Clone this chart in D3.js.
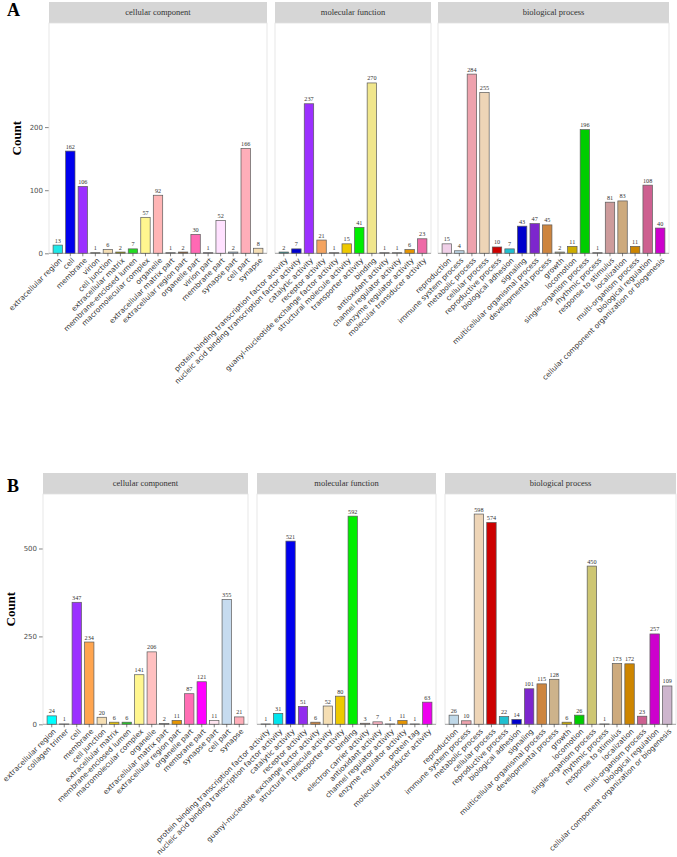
<!DOCTYPE html>
<html><head><meta charset="utf-8">
<script src="https://cdn.jsdelivr.net/npm/d3@7"></script>
<style>body{margin:0;background:#fff}</style></head>
<body><svg id="c" width="677" height="857"></svg>
<script>
// ---------- DATA: Panel A ----------
const ccCatsA = ["extracellular region","cell","membrane","virion","cell junction","extracellular matrix","membrane-enclosed lumen","macromolecular complex","organelle","extracellular matrix part","extracellular region part","organelle part","virion part","membrane part","synapse part","cell part","synapse"];
const ccValsA = [13,162,106,1,6,2,7,57,92,1,2,30,1,52,2,166,8];
const ccColorsA = ["#1EE8E8","#0000EE","#9B30FF","#9C9C7A","#F5DEB3","#8B8B00","#22DD22","#FFF68F","#FFB5B5","#8C8C8C","#8B5A2B","#FF69B4","#9A7A9A","#FFE1FF","#9FB6CD","#FFAEB9","#F5DEB3"];

const mfCatsA = ["protein binding transcription factor activity","nucleic acid binding transcription factor activity","catalytic activity","receptor activity","guanyl-nucleotide exchange factor activity","structural molecule activity","transporter activity","binding","antioxidant activity","channel regulator activity","enzyme regulator activity","molecular transducer activity"];
const mfValsA = [2,7,237,21,1,15,41,270,1,1,6,23];
const mfColorsA = ["#2E8B8B","#0000CD","#9B30FF","#F4A460","#A0A0A0","#EEC900","#00EE00","#F0E68C","#9A9A9A","#A8A8A8","#E69500","#EE6AA7"];

const bpCatsA = ["reproduction","immune system process","metabolic process","cellular process","reproductive process","biological adhesion","signaling","multicellular organismal process","developmental process","growth","locomotion","single-organism process","rhythmic process","response to stimulus","localization","multi-organism process","biological regulation","cellular component organization or biogenesis"];
const bpValsA = [15,4,284,255,10,7,43,47,45,2,11,196,1,81,83,11,108,40];
const bpColorsA = ["#F0D0E8","#BFD8E8","#EEA2AD","#EED5B7","#CD0000","#20C0D0","#0000CD","#7D26CD","#CD853F","#A0A080","#CDAD00","#00CD00","#A0A0A0","#CD9B9B","#CDAA7D","#CD8500","#CD6090","#CD00CD"];

// ---------- DATA: Panel B ----------
const ccCatsB = ["extracellular region","collagen trimer","cell","membrane","cell junction","extracellular matrix","membrane-enclosed lumen","macromolecular complex","organelle","extracellular matrix part","extracellular region part","organelle part","membrane part","synapse part","cell part","synapse"];
const ccValsB = [24,1,347,234,20,6,6,141,206,2,11,87,121,11,355,21];
const ccColorsB = ["#00FFFF","#333333","#9B30FF","#FFA54F","#F5DEB3","#EEC900","#22CC22","#FFF68F","#FFC0C0","#8C8C8C","#E69500","#FF6EB4","#FF00FF","#FFE4F0","#C6DBEF","#FFAEB9"];

const mfCatsB = ["protein binding transcription factor activity","nucleic acid binding transcription factor activity","catalytic activity","receptor activity","guanyl-nucleotide exchange factor activity","structural molecule activity","transporter activity","binding","electron carrier activity","antioxidant activity","channel regulator activity","enzyme regulator activity","protein tag","molecular transducer activity"];
const mfValsB = [1,31,521,51,6,52,80,592,3,7,1,11,1,63];
const mfColorsB = ["#333333","#00E5EE","#0000EE","#912CEE","#CD853F","#F5DEB3","#EEC900","#00EE00","#A08070","#FFB5C5","#333333","#E69500","#333333","#EE00EE"];

const bpCatsB = ["reproduction","immune system process","metabolic process","cellular process","reproductive process","biological adhesion","signaling","multicellular organismal process","developmental process","growth","locomotion","single-organism process","rhythmic process","response to stimulus","localization","multi-organism process","biological regulation","cellular component organization or biogenesis"];
const bpValsB = [26,10,598,574,22,14,101,115,128,6,26,450,1,173,172,23,257,109];
const bpColorsB = ["#BFD8E8","#EEA2AD","#EED5B7","#CD0000","#20C0D0","#0000CD","#7D26CD","#CD853F","#CDB38B","#CDAD00","#00CD00","#CDC673","#333333","#CDAA7D","#CD8500","#CD6090","#CD00CD","#CDB5CD"];

const facetTitles = ["cellular component","molecular function","biological process"];
const ticksA = [0,100,200];
const ticksB = [0,250,500];

// ---------- DRAW ----------
const svg = d3.select("#c");

function drawFacet(spec){
  const y = d3.scaleLinear().domain([0, spec.yMax]).range([spec.y0, spec.yTop]);
  svg.append("text").attr("x", spec.letterX).attr("y", spec.letterY)
    .attr("font-family","Liberation Serif, serif").attr("font-weight","bold")
    .attr("font-size", 18).attr("fill","#000").text(spec.letter);
  svg.append("text").attr("transform",`translate(${spec.countX},${(spec.y0+spec.yTop)/2}) rotate(-90)`)
    .attr("text-anchor","middle").attr("font-family","Liberation Serif, serif").attr("font-weight","bold")
    .attr("font-size", 13).attr("fill","#000").text("Count");
  const ax = svg.append("g").attr("transform",`translate(${spec.panels[0].x0},0)`)
    .call(d3.axisLeft(y).tickValues(spec.ticks).tickSize(4).tickPadding(2));
  ax.select(".domain").remove();
  ax.selectAll(".tick line").attr("stroke","#333").attr("stroke-width",0.6);
  ax.selectAll(".tick text").attr("font-family","DejaVu Sans, sans-serif").attr("font-size",7).attr("fill","#4d4d4d");

  spec.panels.forEach((p,i)=>{
    const x = d3.scaleBand().domain(p.cats).range([p.x0,p.x1]).paddingInner(0.25).paddingOuter(0.325);
    svg.append("rect").attr("x",p.x0).attr("y",spec.stripTop).attr("width",p.x1-p.x0).attr("height",spec.yTop-spec.stripTop).attr("fill","#d6d6d6");
    svg.append("text").attr("x",(p.x0+p.x1)/2).attr("y",(spec.stripTop+spec.yTop)/2).attr("dy","0.35em")
      .attr("text-anchor","middle").attr("font-family","Liberation Serif, serif").attr("font-size",8.5).attr("fill","#333")
      .text(facetTitles[i]);
    svg.append("rect").attr("x",p.x0).attr("y",spec.yTop).attr("width",p.x1-p.x0).attr("height",spec.y0-spec.yTop)
      .attr("fill","#fff").attr("stroke","#e2e2e2").attr("stroke-width",0.8);
    const g = svg.append("g");
    const data = p.cats.map((c,k)=>({c, v:p.vals[k], col:p.colors[k]}));
    g.selectAll("rect").data(data).join("rect")
      .attr("x",d=>x(d.c)).attr("y",d=>y(d.v)).attr("width",x.bandwidth()).attr("height",d=>spec.y0-y(d.v))
      .attr("fill",d=>d.col).attr("stroke","#5a5a5a").attr("stroke-width",0.7);
    g.selectAll("text").data(data).join("text")
      .attr("x",d=>x(d.c)+x.bandwidth()/2).attr("y",d=>y(d.v)-2.5)
      .attr("text-anchor","middle").attr("font-family","Liberation Serif, serif").attr("font-size",6.2).attr("fill","#333")
      .text(d=>d.v);
    svg.append("line").attr("x1",p.x0).attr("x2",p.x1).attr("y1",spec.y0).attr("y2",spec.y0).attr("stroke","#777").attr("stroke-width",0.6);
    const xa = svg.append("g").attr("transform",`translate(0,${spec.y0})`).call(d3.axisBottom(x).tickSize(3));
    xa.select(".domain").remove();
    xa.selectAll(".tick line").attr("stroke","#333").attr("stroke-width",0.6);
    xa.selectAll(".tick text").attr("x",0).attr("y",0).attr("dy","0.7em")
      .attr("transform","translate(1,4) rotate(-45)").attr("text-anchor","end")
      .attr("font-family","DejaVu Sans, sans-serif").attr("font-size",7.3).attr("fill","#333");
  });
}

drawFacet({
  letter:"A", letterX:7, letterY:16, countX:21,
  stripTop:2, yTop:23, y0:253.3, yMax:365, ticks:ticksA,
  panels:[
    {x0:49,x1:267,cats:ccCatsA,vals:ccValsA,colors:ccColorsA},
    {x0:275,x1:431,cats:mfCatsA,vals:mfValsA,colors:mfColorsA},
    {x0:438,x1:669,cats:bpCatsA,vals:bpValsA,colors:bpColorsA}
  ]
});
drawFacet({
  letter:"B", letterX:7, letterY:492, countX:15,
  stripTop:473, yTop:494, y0:724.3, yMax:655, ticks:ticksB,
  panels:[
    {x0:43,x1:248,cats:ccCatsB,vals:ccValsB,colors:ccColorsB},
    {x0:257,x1:436,cats:mfCatsB,vals:mfValsB,colors:mfColorsB},
    {x0:445,x1:676,cats:bpCatsB,vals:bpValsB,colors:bpColorsB}
  ]
});
</script></body></html>
